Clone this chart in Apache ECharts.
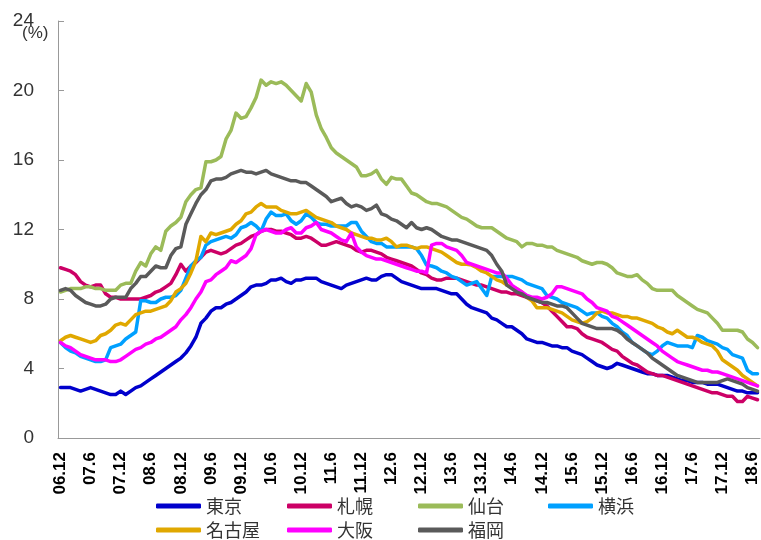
<!DOCTYPE html>
<html>
<head>
<meta charset="utf-8">
<script src="https://cdn.jsdelivr.net/npm/echarts@6/dist/echarts.min.js"></script>
<style>
  html, body { margin: 0; padding: 0; background: #fff; }
  #chart { width: 761px; height: 540px; }
</style>
</head>
<body>
<div id="chart"></div>
<script>
// Monthly series from 2006.12, one value per month (%)
const startYear = 2006, startMonth = 12, monthCount = 140;
const yTicks = [0, 4, 8, 12, 16, 20, 24];

const tokyo = [
  2.9, 2.9, 2.9, 2.8, 2.7, 2.8, 2.9, 2.8, 2.7, 2.6,
  2.5, 2.5, 2.7, 2.5, 2.7, 2.9, 3.0, 3.2, 3.4, 3.6,
  3.8, 4.0, 4.2, 4.4, 4.6, 4.9, 5.3, 5.8, 6.6, 6.9,
  7.3, 7.5, 7.5, 7.7, 7.8, 8.0, 8.2, 8.4, 8.7, 8.8,
  8.8, 8.9, 9.1, 9.1, 9.2, 9.0, 8.9, 9.1, 9.1, 9.2,
  9.2, 9.2, 9.0, 8.9, 8.8, 8.7, 8.6, 8.8, 8.9, 9.0,
  9.1, 9.2, 9.1, 9.1, 9.3, 9.4, 9.4, 9.2, 9.0, 8.9,
  8.8, 8.7, 8.6, 8.6, 8.6, 8.6, 8.5, 8.4, 8.3, 8.3,
  8.0, 7.7, 7.5, 7.4, 7.3, 7.2, 6.9, 6.8, 6.6, 6.4,
  6.4, 6.2, 6.0, 5.7, 5.6, 5.5, 5.5, 5.4, 5.3, 5.3,
  5.2, 5.2, 5.0, 4.9, 4.8, 4.6, 4.4, 4.2, 4.1, 4.0,
  4.1, 4.3, 4.2, 4.1, 4.0, 3.9, 3.8, 3.7, 3.7, 3.6,
  3.6, 3.6, 3.5, 3.4, 3.3, 3.3, 3.2, 3.2, 3.2, 3.1,
  3.1, 3.1, 3.0, 2.9, 2.8, 2.7, 2.7, 2.6, 2.6, 2.6
];
const sapporo = [
  9.8, 9.7, 9.6, 9.4, 9.0, 8.8, 8.7, 8.8, 8.8, 8.3,
  8.1, 8.1, 8.0, 8.0, 8.0, 8.0, 8.0, 8.1, 8.2, 8.4,
  8.5, 8.7, 8.9, 9.4, 10.0, 9.6, 9.9, 10.1, 10.4, 10.7,
  10.8, 10.7, 10.6, 10.7, 10.9, 11.1, 11.2, 11.4, 11.6, 11.7,
  11.9, 12.0, 12.0, 11.9, 11.9, 11.8, 11.7, 11.5, 11.5, 11.6,
  11.5, 11.3, 11.1, 11.1, 11.2, 11.3, 11.2, 11.1, 11.0, 10.8,
  10.7, 10.8, 10.8, 10.7, 10.6, 10.4, 10.3, 10.2, 10.1, 10.0,
  9.9, 9.7, 9.5, 9.4, 9.2, 9.1, 9.1, 9.2, 9.2, 9.2,
  9.1, 9.0, 8.9, 8.8, 8.8, 8.7, 8.6, 8.5, 8.4, 8.4,
  8.3, 8.3, 8.2, 8.1, 8.0, 7.9, 7.8, 7.6, 7.3, 7.0,
  6.7, 6.4, 6.4, 6.3, 6.0, 5.8, 5.7, 5.6, 5.5, 5.3,
  5.1, 5.0, 4.7, 4.5, 4.3, 4.2, 4.0, 3.8, 3.7, 3.6,
  3.6, 3.5, 3.4, 3.3, 3.2, 3.1, 3.0, 2.9, 2.8, 2.7,
  2.6, 2.6, 2.5, 2.4, 2.4, 2.1, 2.1, 2.4, 2.3, 2.2
];
const sendai = [
  8.4, 8.5, 8.6, 8.6, 8.6, 8.7, 8.7, 8.6, 8.6, 8.5,
  8.5, 8.5, 8.8, 8.9, 8.9, 9.6, 10.1, 9.9, 10.6, 11.0,
  10.8, 11.9, 12.2, 12.4, 12.7, 13.6, 14.0, 14.3, 14.4, 15.9,
  15.9, 16.0, 16.2, 17.2, 17.7, 18.7, 18.4, 18.5, 19.0, 19.6,
  20.6, 20.3, 20.5, 20.4, 20.5, 20.3, 20.0, 19.7, 19.4, 20.4,
  19.9, 18.6, 17.8, 17.3, 16.7, 16.4, 16.2, 16.0, 15.8, 15.6,
  15.1, 15.1, 15.2, 15.4, 14.9, 14.6, 15.0, 14.9, 14.9, 14.5,
  14.1, 14.0, 13.8, 13.6, 13.5, 13.5, 13.4, 13.3, 13.1, 12.9,
  12.7, 12.6, 12.4, 12.2, 12.1, 12.1, 12.1, 11.9, 11.7, 11.5,
  11.4, 11.3, 11.0, 11.2, 11.2, 11.1, 11.1, 11.0, 11.0, 10.8,
  10.7, 10.6, 10.5, 10.4, 10.2, 10.1, 10.0, 10.1, 10.1, 10.0,
  9.8, 9.5, 9.4, 9.3, 9.3, 9.4, 9.1, 8.9, 8.6, 8.5,
  8.5, 8.5, 8.5, 8.2, 8.0, 7.8, 7.6, 7.4, 7.3, 7.2,
  6.9, 6.6, 6.2, 6.2, 6.2, 6.2, 6.1, 5.7, 5.5, 5.2
];
const yokohama = [
  5.5, 5.2, 5.0, 4.9, 4.7, 4.6, 4.5, 4.4, 4.4, 4.5,
  5.2, 5.3, 5.4, 5.7, 5.9, 6.1, 7.9, 7.9, 7.8, 7.8,
  8.0, 8.1, 8.1, 8.2, 8.5, 9.2, 9.9, 10.2, 10.4, 11.1,
  11.3, 11.4, 11.5, 11.6, 11.5, 11.7, 12.1, 12.2, 12.4, 12.2,
  11.9, 12.6, 13.0, 12.8, 12.8, 12.9, 12.5, 12.3, 12.5, 12.9,
  12.7, 12.4, 12.3, 12.3, 12.2, 12.2, 12.2, 12.2, 12.4, 12.4,
  11.9, 11.6, 11.3, 11.2, 11.2, 11.0, 11.0, 11.0, 11.0, 11.0,
  11.0, 10.9, 10.5, 9.95, 9.9, 9.8, 9.6, 9.5, 9.3, 9.2,
  9.0, 8.8, 8.9, 9.0, 8.6, 8.2, 9.3, 9.3, 9.3, 9.3,
  9.3, 9.2, 9.1, 8.9, 8.8, 8.7, 8.6, 8.2, 8.1, 8.0,
  7.8, 7.7, 7.6, 7.5, 7.3, 7.1, 7.2, 7.2, 7.0, 6.9,
  6.6, 6.4, 6.1, 5.9, 5.5, 5.3, 5.1, 4.9, 4.8, 5.0,
  5.3, 5.5, 5.4, 5.3, 5.3, 5.3, 5.2, 5.9, 5.8, 5.6,
  5.5, 5.4, 5.2, 5.1, 4.8, 4.7, 4.6, 3.9, 3.7, 3.7
];
const nagoya = [
  5.6, 5.8, 5.9, 5.8, 5.7, 5.6, 5.5, 5.6, 5.9, 6.0,
  6.2, 6.5, 6.6, 6.5, 6.8, 7.1, 7.2, 7.3, 7.3, 7.4,
  7.5, 7.6, 7.9, 8.4, 8.6, 8.9, 9.5, 10.2, 11.6, 11.3,
  11.8, 11.7, 11.8, 11.9, 12.0, 12.3, 12.5, 12.9, 13.0, 13.3,
  13.5, 13.3, 13.3, 13.3, 13.1, 13.0, 12.9, 12.9, 13.0, 13.1,
  12.9, 12.7, 12.6, 12.5, 12.4, 12.2, 12.1, 12.0, 11.8, 11.7,
  11.6, 11.5, 11.5, 11.4, 11.4, 11.5, 11.3, 11.0, 11.1, 11.1,
  11.0, 10.9, 11.0, 11.0, 10.9, 10.8, 10.7, 10.5, 10.3, 10.1,
  10.0, 10.0, 9.95, 9.8, 9.6, 9.5, 9.3, 9.1, 9.0, 8.8,
  8.7, 8.6, 8.4, 8.1, 7.9, 7.5, 7.5, 7.5, 7.4, 7.3,
  7.2, 7.0, 6.8, 6.7, 6.6, 6.7, 6.9, 7.2, 7.3, 7.2,
  7.2, 7.1, 7.0, 7.0, 6.9, 6.9, 6.8, 6.7, 6.6, 6.4,
  6.3, 6.1, 6.0, 6.2, 6.0, 5.8, 5.8, 5.7, 5.5, 5.4,
  5.3, 5.0, 4.5, 4.3, 4.1, 3.9, 3.6, 3.4, 3.2, 3.0
];
const osaka = [
  5.5, 5.3, 5.2, 5.0, 4.8, 4.7, 4.6, 4.5, 4.5, 4.5,
  4.4, 4.4, 4.5, 4.7, 4.9, 5.1, 5.2, 5.4, 5.5, 5.7,
  5.8, 6.0, 6.2, 6.4, 6.8, 7.1, 7.5, 8.0, 8.4, 9.0,
  9.1, 9.4, 9.6, 9.8, 10.2, 10.1, 10.3, 10.5, 10.9, 11.7,
  11.9, 12.0, 11.9, 11.8, 11.8, 12.0, 12.1, 11.8, 11.8, 12.1,
  12.2, 12.4, 12.0, 11.9, 11.8, 11.6, 11.4, 11.3, 11.8, 11.0,
  10.7, 10.5, 10.4, 10.3, 10.3, 10.2, 10.1, 10.0, 9.9, 9.8,
  9.7, 9.6, 9.6, 9.5, 11.1, 11.2, 11.2, 11.0, 10.9, 10.8,
  10.5, 10.1, 10.0, 9.9, 9.8, 9.7, 9.6, 9.5, 9.5, 9.2,
  8.8, 8.6, 8.4, 8.2, 8.1, 8.1, 8.0, 8.1, 8.3, 8.7,
  8.7, 8.6, 8.5, 8.4, 8.3, 8.0, 7.8, 7.5, 7.4, 7.3,
  7.0, 6.9, 6.7, 6.5, 6.3, 6.1, 5.9, 5.7, 5.5, 5.3,
  5.0, 4.8, 4.6, 4.4, 4.3, 4.2, 4.1, 4.0, 3.9, 3.9,
  3.8, 3.8, 3.7, 3.6, 3.5, 3.4, 3.3, 3.2, 3.1, 3.0
];
const fukuoka = [
  8.5, 8.6, 8.5, 8.2, 8.0, 7.8, 7.7, 7.6, 7.6, 7.7,
  8.0, 8.1, 8.1, 8.1, 8.6, 8.9, 9.3, 9.3, 9.6, 9.9,
  9.8, 9.8, 10.5, 10.9, 11.0, 12.3, 12.9, 13.5, 14.0, 14.3,
  14.8, 14.9, 14.9, 15.0, 15.2, 15.3, 15.4, 15.3, 15.3, 15.2,
  15.3, 15.4, 15.2, 15.1, 15.0, 14.9, 14.8, 14.8, 14.7, 14.7,
  14.5, 14.3, 14.1, 13.9, 13.6, 13.7, 13.8, 13.5, 13.3, 13.4,
  13.3, 13.1, 13.2, 13.4, 12.9, 12.8, 12.6, 12.5, 12.3, 12.1,
  12.4, 12.1, 12.0, 12.1, 12.0, 11.8, 11.6, 11.5, 11.4, 11.4,
  11.3, 11.2, 11.1, 11.0, 10.9, 10.8, 10.5, 10.0, 9.6, 8.8,
  8.6, 8.4, 8.3, 8.1, 8.0, 7.9, 7.8, 7.8, 7.7, 7.6,
  7.6, 7.5, 7.2, 6.9, 6.6, 6.5, 6.4, 6.3, 6.3, 6.3,
  6.3, 6.2, 6.0, 5.7, 5.5, 5.3, 5.1, 4.9, 4.6, 4.4,
  4.2, 4.0, 3.8, 3.6, 3.5, 3.4, 3.3, 3.2, 3.2, 3.2,
  3.2, 3.2, 3.3, 3.4, 3.3, 3.2, 3.1, 2.9, 2.8, 2.7
];

const cityNames = ['東京', '札幌', '仙台', '横浜', '名古屋', '大阪', '福岡'];
const cityValues = [tokyo, sapporo, sendai, yokohama, nagoya, osaka, fukuoka];
const cityColors = ['#0000CC', '#CC0066', '#9BBB59', '#00A0FF', '#E0A800', '#FF00FF', '#5A5A5A'];

// Month labels "YY.M", e.g. 06.12, 07.6
const months = [];
for (let k = 0; k < monthCount; k++) {
  const total = startYear * 12 + (startMonth - 1) + k;
  const yy = Math.floor(total / 12) % 100;
  const mm = (total % 12) + 1;
  months.push(String(yy).padStart(2, '0') + '.' + mm);
}

// Legend laid out as a 4 + 3 grid under the axis
const legendSpots = [
  { left: 151, top: 492 }, { left: 282, top: 492 }, { left: 413, top: 492 }, { left: 543, top: 492 },
  { left: 151, top: 516 }, { left: 282, top: 516 }, { left: 413, top: 516 }
];

const chart = echarts.init(document.getElementById('chart'), null, { renderer: 'canvas' });
chart.setOption({
  animation: false,
  backgroundColor: '#ffffff',
  grid: { left: 58, right: 0, top: 21, bottom: 102, containLabel: false },
  legend: cityNames.map((n, i) => ({
    data: [n],
    left: legendSpots[i].left,
    top: legendSpots[i].top,
    icon: 'roundRect',
    itemWidth: 45,
    itemHeight: 5,
    itemGap: 0,
    textStyle: { fontSize: 18, color: '#333', fontFamily: '"Noto Sans CJK JP", sans-serif', padding: [0, 0, 0, 0] }
  })),
  xAxis: {
    type: 'category',
    data: months,
    boundaryGap: true,
    axisLine: { lineStyle: { color: '#999', width: 1 } },
    axisTick: { inside: true, length: 5, interval: 5, lineStyle: { color: '#999' } },
    axisLabel: {
      interval: 5,
      rotate: 90,
      margin: 14,
      fontSize: 17,
      fontWeight: 'bold',
      color: '#000',
      fontFamily: '"Liberation Sans", Arial, sans-serif'
    },
    splitLine: { show: false }
  },
  yAxis: {
    type: 'value',
    min: yTicks[0],
    max: yTicks[yTicks.length - 1],
    interval: 4,
    axisLine: { show: true, lineStyle: { color: '#999', width: 1 } },
    axisTick: { show: true, inside: true, length: 6, lineStyle: { color: '#999' } },
    axisLabel: {
      margin: 24,
      fontSize: 19,
      color: '#333',
      fontFamily: '"Liberation Sans", Arial, sans-serif'
    },
    splitLine: { show: false }
  },
  graphic: [{
    type: 'text',
    left: 22,
    top: 25,
    style: { text: '(%)', fontSize: 17, fill: '#333', fontFamily: '"Liberation Sans", Arial, sans-serif' }
  }],
  series: cityNames.map((n, i) => ({
    name: n,
    type: 'line',
    data: cityValues[i],
    symbol: 'none',
    showSymbol: false,
    smooth: false,
    color: cityColors[i],
    lineStyle: { width: 3.5, color: cityColors[i], cap: 'round', join: 'round' },
    itemStyle: { color: cityColors[i] }
  }))
});
</script>
</body>
</html>
